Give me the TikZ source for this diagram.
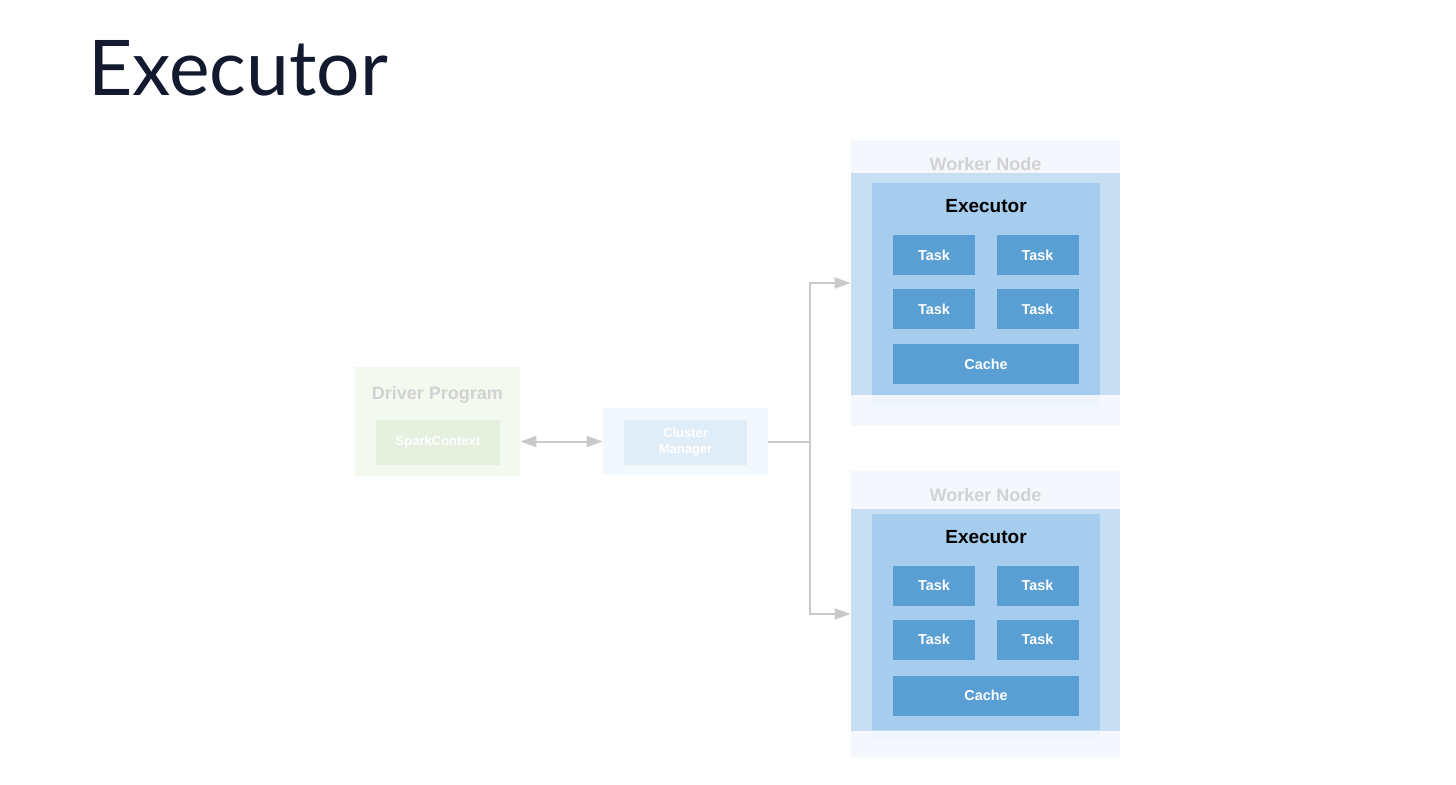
\documentclass[tikz,border=0pt]{standalone}
\usepackage{fontspec}
\setmainfont{Liberation Sans}
\newfontfamily\latofont{Lato}
\usetikzlibrary{arrows.meta}
\definecolor{titlec}{HTML}{131A30}
\definecolor{drvbg}{HTML}{F4F9F0}
\definecolor{scbg}{HTML}{E6F0DE}
\definecolor{cmbg}{HTML}{F2F8FD}
\definecolor{cminner}{HTML}{DFEDF8}
\definecolor{wnbg}{HTML}{F4F8FC}
\definecolor{band}{HTML}{C6DFF3}
\definecolor{execbg}{HTML}{A6CDEE}
\definecolor{execpale}{HTML}{EEF5FB}
\definecolor{taskc}{HTML}{5A9FD4}
\definecolor{fadetext}{HTML}{D2D2D2}
\definecolor{arrc}{HTML}{C9C9C9}
\tikzset{
  box/.style={fill=#1, draw=none, inner sep=0pt},
  taskbox/.style={fill=taskc, draw=none, inner sep=0pt, minimum width=41pt, minimum height=20pt,
    text=white, font=\bfseries\fontsize{7.2}{8}\selectfont},
  cachebox/.style={taskbox, minimum width=93pt},
  fadelbl/.style={text=fadetext, font=\bfseries\fontsize{9}{10}\selectfont, inner sep=0pt},
  execlbl/.style={text=black, font=\bfseries\fontsize{9.5}{10}\selectfont, inner sep=0pt},
  arr/.style={draw=arrc, line width=1pt, -{Triangle[length=8pt,width=5.5pt]}},
  darr/.style={draw=arrc, line width=1pt, {Triangle[length=8pt,width=5.5pt]}-{Triangle[length=8pt,width=5.5pt]}},
}
\begin{document}
\begin{tikzpicture}[x=0.5pt,y=-0.5pt]
\useasboundingbox[fill=white] (0,0) rectangle (1456,784);
% title
\node[anchor=base west, inner sep=0pt, text=titlec, font=\latofont\fontsize{38.4}{44}\selectfont] (title) at (88,95) {Executor};
% driver
\node[box=drvbg, minimum width=82.5pt, minimum height=54.5pt] (drv) at (437.5,421.5) {};
\node[fadelbl] (drvl) at (437.5,395) {Driver Program};
\node[box=scbg, minimum width=62pt, minimum height=22.5pt, text=white, font=\bfseries\fontsize{6.5}{7}\selectfont] (sc) at (438,442.5) {SparkContext};
% cluster manager
\node[box=cmbg, minimum width=82.5pt, minimum height=33.5pt] (cm) at (685.5,441.5) {};
\node[box=cminner, minimum width=61.5pt, minimum height=22.5pt, text=white, align=center, font=\bfseries\fontsize{6.5}{8}\selectfont] (cmi) at (685.5,442.5) {Cluster\\Manager};
% worker 1
\node[box=wnbg, minimum width=134.5pt, minimum height=143pt] (w1) at (985.5,283) {};
\node[fadelbl] (w1l) at (985.5,164) {Worker Node};
\node[box=execpale, minimum width=114pt, minimum height=5pt] (e1x) at (986,400) {};
\node[box=band, minimum width=134.5pt, minimum height=111pt] (b1) at (985.5,284) {};
\node[box=execbg, minimum width=114pt, minimum height=106pt] (e1) at (986,289) {};
\node[execlbl] (e1l) at (986,206) {Executor};
\node[taskbox] (t11) at (934,255) {Task};
\node[taskbox] (t12) at (1037.5,255) {Task};
\node[taskbox] (t13) at (934,309) {Task};
\node[taskbox] (t14) at (1037.5,309) {Task};
\node[cachebox] (c1) at (986,364) {Cache};
% worker 2
\node[box=wnbg, minimum width=134.5pt, minimum height=143pt] (w2) at (985.5,614) {};
\node[fadelbl] (w2l) at (985.5,495) {Worker Node};
\node[box=execpale, minimum width=114pt, minimum height=4pt] (e2x) at (986,735) {};
\node[box=band, minimum width=134.5pt, minimum height=111pt] (b2) at (985.5,620) {};
\node[box=execbg, minimum width=114pt, minimum height=108pt] (e2) at (986,622) {};
\node[execlbl] (e2l) at (986,537) {Executor};
\node[taskbox] (t21) at (934,585.5) {Task};
\node[taskbox] (t22) at (1037.5,585.5) {Task};
\node[taskbox] (t23) at (934,639.5) {Task};
\node[taskbox] (t24) at (1037.5,639.5) {Task};
\node[cachebox] (c2) at (986,695.5) {Cache};
% connectors
\coordinate (split) at (810,441.5);
\draw[darr] (drv.east |- cm.center) -- (cm.west);
\draw[draw=arrc, line width=1pt] (cm.east) -- (split);
\draw[arr] (split) |- (w1.west);
\draw[arr] (split) |- (w2.west);
\end{tikzpicture}
\end{document}
